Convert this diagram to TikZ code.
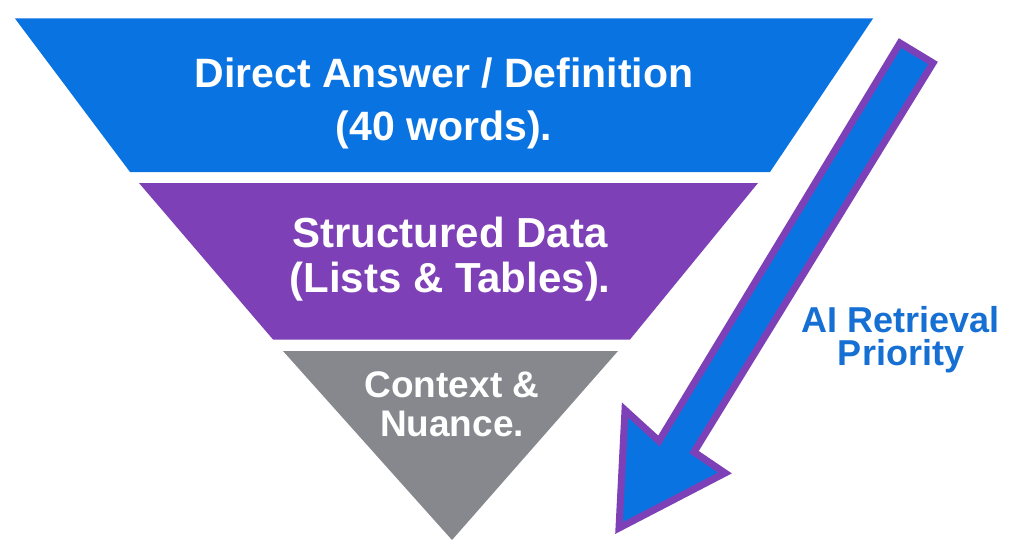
\documentclass[tikz,border=0pt]{standalone}
\usepackage{fontspec}
\setmainfont{Liberation Sans}
\definecolor{tierblue}{RGB}{9,115,226}
\definecolor{tierpurple}{RGB}{125,64,183}
\definecolor{tiergray}{RGB}{134,136,141}
\definecolor{labelblue}{RGB}{22,112,212}
\tikzset{
  tiertext/.style={text=white, font=\bfseries, anchor=base, inner sep=0pt},
  sidetext/.style={text=labelblue, font=\bfseries\fontsize{36}{40}\selectfont, anchor=base, inner sep=0pt},
  arrowshape/.style={fill=tierblue, draw=tierpurple, line width=7pt, line join=miter},
}
\begin{document}
\begin{tikzpicture}[x=1pt,y=-1pt]
\useasboundingbox (0,0) rectangle (1024,559);
\fill[white] (0,0) rectangle (1024,559);
% tiers
\fill[tierblue] (15,18.5) -- (873,18.5) -- (770,172) -- (130,172) -- cycle;
\fill[tierpurple] (139,183) -- (758,183) -- (630,339.5) -- (273,339.5) -- cycle;
\fill[tiergray] (283,351) -- (618,351) -- (452,540) -- cycle;
% arrow
\draw[arrowshape] (900,43) -- (933,63) -- (694,452) -- (725,473) -- (619,528) -- (625,410) -- (659,441) -- cycle;
% texts
\node[tiertext, font=\bfseries\fontsize{41}{48}\selectfont] (t1a) at (444,88) {Direct Answer / Definition};
\node[tiertext, font=\bfseries\fontsize{41}{48}\selectfont] (t1b) at (444,140) {(40 words).};
\node[tiertext, font=\bfseries\fontsize{42}{48}\selectfont] (t2a) at (450,247) {Structured Data};
\node[tiertext, font=\bfseries\fontsize{42}{48}\selectfont] (t2b) at (450,292) {(Lists \& Tables).};
\node[tiertext, font=\bfseries\fontsize{37}{44}\selectfont] (t3a) at (452,397) {Context \&};
\node[tiertext, font=\bfseries\fontsize{37}{44}\selectfont] (t3b) at (452,436) {Nuance.};
\node[sidetext] (s1) at (901,332) {AI Retrieval};
\node[sidetext] (s2) at (901,365) {Priority};
\end{tikzpicture}
\end{document}
